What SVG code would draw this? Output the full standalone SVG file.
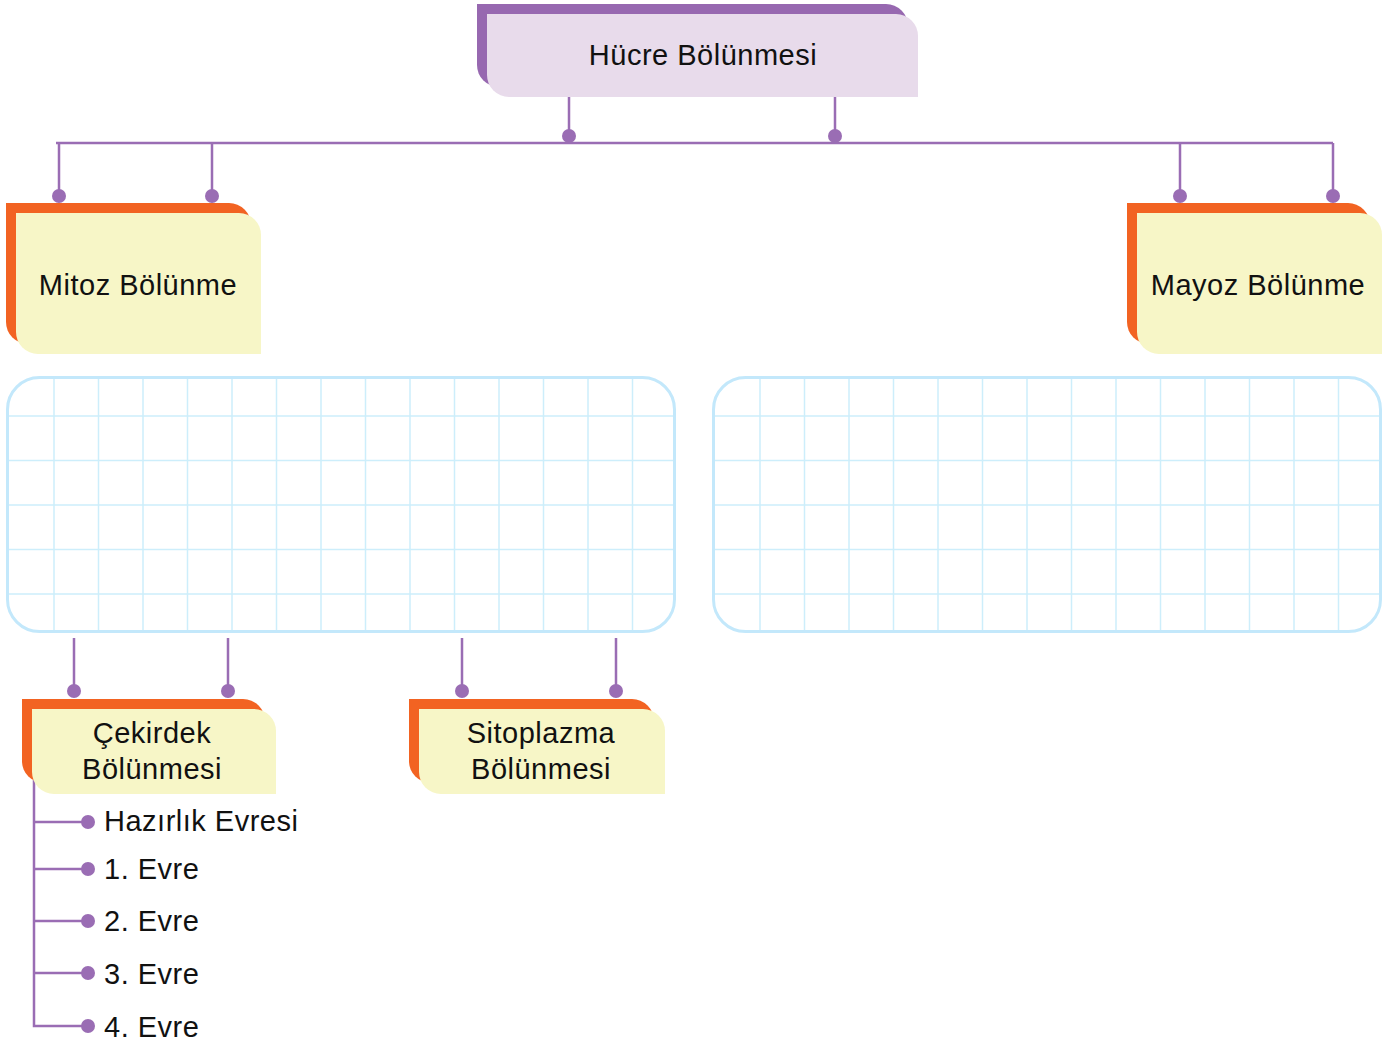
<svg xmlns="http://www.w3.org/2000/svg" width="1394" height="1045" viewBox="0 0 1394 1045">
<style>
.t{font-family:"Liberation Sans",Arial,sans-serif;font-size:29px;fill:#111;letter-spacing:0.5px}
.c{text-anchor:middle}
.ln{stroke:#9a6db4;stroke-width:2.5;fill:none}
.dot{fill:#9a6db4}
.grid{stroke:#cdeefb;stroke-width:1.5;fill:none}
.box{stroke:#c3e8fb;stroke-width:3;fill:none}
.pb{fill:#9768b0}.pf{fill:#e8dbeb}
.ob{fill:#f26322}.of{fill:#f7f6c7}
</style>
<rect width="1394" height="1045" fill="#fff"/>
<g id="connectors">
<path class="ln" d="M569 97V143M835 97V143M56 143H1333M59 143V197M212 143V197M1180 143V197M1333 143V197"/>
<circle class="dot" cx="569" cy="136" r="7"/><circle class="dot" cx="835" cy="136" r="7"/>
<circle class="dot" cx="59" cy="196" r="7"/><circle class="dot" cx="212" cy="196" r="7"/>
<circle class="dot" cx="1180" cy="196" r="7"/><circle class="dot" cx="1333" cy="196" r="7"/>
<path class="ln" d="M74 638V692M228 638V692M462 638V692M616 638V692"/>
<circle class="dot" cx="74" cy="691" r="7"/><circle class="dot" cx="228" cy="691" r="7"/>
<circle class="dot" cx="462" cy="691" r="7"/><circle class="dot" cx="616" cy="691" r="7"/>
<path class="ln" d="M34 780V1026H88M34 822H88M34 869H88M34 921H88M34 973H88"/>
<circle class="dot" cx="88" cy="822" r="7"/><circle class="dot" cx="88" cy="869" r="7"/>
<circle class="dot" cx="88" cy="921" r="7"/><circle class="dot" cx="88" cy="973" r="7"/>
<circle class="dot" cx="88" cy="1026" r="7"/>
</g>
<g id="hucre">
<path class="pb" d="M477 4H886A22 22 0 0 1 908 26V87H499A22 22 0 0 1 477 65Z"/>
<path class="pf" d="M487 14H896A22 22 0 0 1 918 36V97H509A22 22 0 0 1 487 75Z"/>
<text class="t c" x="703" y="65">Hücre Bölünmesi</text>
</g>
<g id="mitoz">
<path class="ob" d="M6 203H229A22 22 0 0 1 251 225V344H28A22 22 0 0 1 6 322Z"/>
<path class="of" d="M16 213H239A22 22 0 0 1 261 235V354H38A22 22 0 0 1 16 332Z"/>
<text class="t c" x="138" y="295">Mitoz Bölünme</text>
</g>
<g id="mayoz">
<path class="ob" d="M1127 203H1348A22 22 0 0 1 1370 225V344H1149A22 22 0 0 1 1127 322Z"/>
<path class="of" d="M1137 213H1360A22 22 0 0 1 1382 235V354H1159A22 22 0 0 1 1137 332Z"/>
<text class="t c" x="1258" y="295">Mayoz Bölünme</text>
</g>
<g id="grid-left">
<path class="grid" d="M54 378V631M98.5 378V631M143 378V631M187.5 378V631M232 378V631M276.5 378V631M321 378V631M365.5 378V631M410 378V631M454.5 378V631M499 378V631M543.5 378V631M588 378V631M632.5 378V631M8 416H674M8 460.5H674M8 505H674M8 549.5H674M8 594H674"/>
<rect class="box" x="7.5" y="377.5" width="667" height="254" rx="32"/>
</g>
<g id="grid-right">
<path class="grid" d="M760 378V631M804.5 378V631M849 378V631M893.5 378V631M938 378V631M982.5 378V631M1027 378V631M1071.5 378V631M1116 378V631M1160.5 378V631M1205 378V631M1249.5 378V631M1294 378V631M1338.5 378V631M714 416H1380M714 460.5H1380M714 505H1380M714 549.5H1380M714 594H1380"/>
<rect class="box" x="713.5" y="377.5" width="667" height="254" rx="32"/>
</g>
<g id="cekirdek">
<path class="ob" d="M22 699H243A22 22 0 0 1 265 721V783H44A22 22 0 0 1 22 761Z"/>
<path class="of" d="M32 709H254A22 22 0 0 1 276 731V794H54A22 22 0 0 1 32 772Z"/>
<text class="t c" x="152" y="743">Çekirdek</text>
<text class="t c" x="152" y="779">Bölünmesi</text>
</g>
<g id="sitoplazma">
<path class="ob" d="M409 699H632A22 22 0 0 1 654 721V783H431A22 22 0 0 1 409 761Z"/>
<path class="of" d="M419 709H643A22 22 0 0 1 665 731V794H441A22 22 0 0 1 419 772Z"/>
<text class="t c" x="541" y="743">Sitoplazma</text>
<text class="t c" x="541" y="779">Bölünmesi</text>
</g>
<g id="evreler">
<text class="t" x="104" y="831">Hazırlık Evresi</text>
<text class="t" x="104" y="879">1. Evre</text>
<text class="t" x="104" y="931">2. Evre</text>
<text class="t" x="104" y="984">3. Evre</text>
<text class="t" x="104" y="1037">4. Evre</text>
</g>
</svg>
